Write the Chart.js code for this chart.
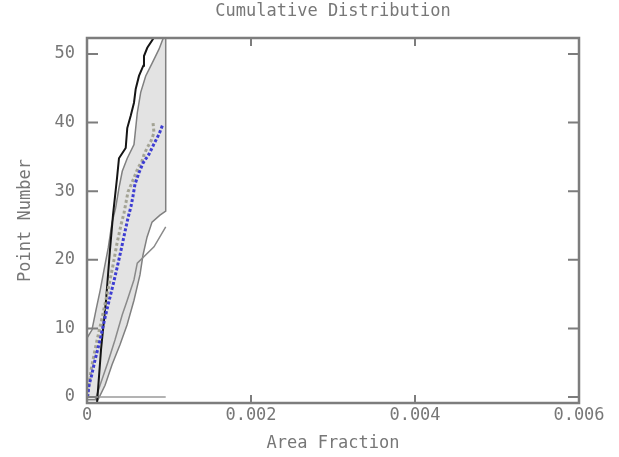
<!DOCTYPE html>
<html>
<head>
<meta charset="utf-8">
<style>
  html, body { margin: 0; padding: 0; background: #fff; }
</style>
<script src="https://cdn.jsdelivr.net/npm/chart.js@4.4.1/dist/chart.umd.min.js"></script>
</head>
<body>
<canvas id="cdf" width="619" height="457"></canvas>
<script>
// tick values / labels
const xTicks = [0, 0.002, 0.004, 0.006];
const xTickLabels = ['0', '0.002', '0.004', '0.006'];
const yTicks = [0, 10, 20, 30, 40, 50];
const chartTitle = 'Cumulative Distribution';

// observed cumulative distribution (blue dots)
const blueX = [0.000006, 0.000024, 0.000057, 0.000098, 0.000159, 0.000207, 0.000256, 0.000317, 0.000366, 0.000415, 0.000463, 0.0005, 0.000537, 0.000561, 0.000585, 0.000634, 0.000683, 0.000756, 0.000817, 0.000878, 0.000927];
const blueY = [0, 1.7, 3.2, 5.4, 8.3, 10.9, 13.4, 16.3, 18.8, 21.4, 24.1, 26.1, 27.8, 29.3, 31.0, 32.7, 34.1, 35.4, 36.9, 38.3, 39.8];

// second distribution (grey dots)
const grayX = [0.000006, 0.000049, 0.00011, 0.000183, 0.000256, 0.000317, 0.000366, 0.000415, 0.000451, 0.000476, 0.0005, 0.000561, 0.000622, 0.000671, 0.000695, 0.000732, 0.00078, 0.000817, 0.000805];
const grayY = [0, 3.9, 7.6, 11.5, 15.6, 19.2, 22.4, 25.1, 26.8, 28.4, 29.9, 31.6, 33.4, 34.4, 35.3, 36.3, 37.3, 38.5, 40.0];

// black reference curve
const blackX = [0.000122, 0.000171, 0.000232, 0.00028, 0.000317, 0.000366, 0.00039, 0.000472, 0.000491, 0.000533, 0.000573, 0.000594, 0.000634, 0.000687, 0.000695, 0.000735, 0.00085];
const blackY = [-0.9, 6.9, 14.1, 21.4, 26.5, 31.9, 34.8, 36.3, 39.2, 41.0, 42.9, 44.9, 46.8, 48.3, 49.7, 50.9, 53.0];

// envelope edges
const bandLeftX = [0, 0.000061, 0.00011, 0.00016, 0.000207, 0.00026, 0.000305, 0.00035, 0.00039, 0.00043, 0.000491, 0.000573, 0.000594, 0.000613, 0.000655, 0.000716, 0.000796, 0.000878, 0.000939];
const bandLeftY = [8.6, 9.8, 12.7, 15.5, 18.5, 21.8, 25.4, 27.6, 30.5, 32.9, 34.8, 36.8, 39.2, 41.4, 44.4, 46.8, 48.7, 50.7, 52.6];
const bandRightX = [0.00096, 0.00096, 0.00089, 0.000793, 0.000732, 0.000683, 0.000646, 0.000573, 0.000488, 0.000402, 0.000305, 0.00022, 0.000134];
const bandRightY = [52.6, 27.1, 26.5, 25.5, 23.3, 20.7, 17.8, 14.1, 10.5, 7.6, 4.7, 1.7, -0.4];
const innerX = [0.00096, 0.000817, 0.000613, 0.000573, 0.000491, 0.00043, 0.000341, 0.000256, 0.000159, 0.0001];
const innerY = [24.8, 21.9, 19.5, 17.1, 14.1, 12.0, 8.3, 5.1, 1.7, -0.4];

// zero line along the bottom
const baseX = [0, 0.00096];
const baseY = [0, 0];

const axisColor = '#7d7d7d';
const textColor = '#777777';
const fontFamily = "'DejaVu Sans Mono', monospace";

function pts(xs, ys) {
  return xs.map((v, i) => ({ x: v, y: ys[i] }));
}

// closed envelope polygon for the shaded area
const bandShape = [{ x: 0, y: -0.4 }]
  .concat(pts(bandLeftX, bandLeftY))
  .concat(pts(bandRightX, bandRightY))
  .concat([{ x: 0, y: -0.4 }]);

Chart.defaults.font.family = fontFamily;
Chart.defaults.color = textColor;

// frame, inward tick marks on all four sides, title centred on the plot box
const framePlugin = {
  id: 'frame',
  afterDraw(chart) {
    const { ctx, chartArea: a, scales: { x, y } } = chart;
    ctx.save();
    ctx.strokeStyle = axisColor;
    ctx.lineWidth = 2.5;
    ctx.strokeRect(a.left, a.top, a.right - a.left, a.bottom - a.top);
    ctx.lineWidth = 2;
    ctx.beginPath();
    yTicks.forEach(v => {
      const py = y.getPixelForValue(v);
      ctx.moveTo(a.left, py); ctx.lineTo(a.left + 11, py);
      ctx.moveTo(a.right, py); ctx.lineTo(a.right - 11, py);
    });
    xTicks.forEach(v => {
      const px = x.getPixelForValue(v);
      if (px <= a.left + 1 || px >= a.right - 1) return;
      ctx.moveTo(px, a.bottom); ctx.lineTo(px, a.bottom - 8);
      ctx.moveTo(px, a.top); ctx.lineTo(px, a.top + 8);
    });
    ctx.stroke();

    ctx.fillStyle = textColor;
    ctx.font = '17px ' + fontFamily;
    ctx.textAlign = 'center';
    ctx.textBaseline = 'middle';
    ctx.fillText(chartTitle, (a.left + a.right) / 2, 12);
    ctx.restore();
  }
};

const ctx = document.getElementById('cdf').getContext('2d');
new Chart(ctx, {
  type: 'scatter',
  data: {
    datasets: [
      {
        label: 'observed',
        data: pts(blueX, blueY),
        showLine: true,
        borderColor: '#3d3dd2',
        borderWidth: 3,
        borderDash: [3, 2],
        pointRadius: 0,
        order: 0
      },
      {
        label: 'second',
        data: pts(grayX, grayY),
        showLine: true,
        borderColor: '#a3a394',
        borderWidth: 3,
        borderDash: [3, 2.5],
        pointRadius: 0,
        order: 1
      },
      {
        label: 'reference',
        data: pts(blackX, blackY),
        showLine: true,
        borderColor: '#151515',
        borderWidth: 2,
        pointRadius: 0,
        order: 2
      },
      {
        label: 'inner',
        data: pts(innerX, innerY),
        showLine: true,
        borderColor: '#8a8a8a',
        borderWidth: 1.5,
        pointRadius: 0,
        order: 3
      },
      {
        label: 'base',
        data: pts(baseX, baseY),
        showLine: true,
        borderColor: '#9a9a9a',
        borderWidth: 1.5,
        pointRadius: 0,
        order: 3
      },
      {
        label: 'envelope',
        data: bandShape,
        showLine: true,
        borderColor: '#808080',
        borderWidth: 1.5,
        backgroundColor: '#e3e3e3',
        fill: 'shape',
        pointRadius: 0,
        order: 4
      }
    ]
  },
  options: {
    responsive: false,
    animation: false,
    layout: { padding: { left: 0, right: 40, top: 38, bottom: 0 } },
    plugins: {
      legend: { display: false },
      tooltip: { enabled: false },
      title: { display: false }
    },
    scales: {
      x: {
        type: 'linear',
        min: 0,
        max: 0.006,
        grid: { display: false, drawTicks: false },
        border: { display: false },
        afterBuildTicks: s => { s.ticks = xTicks.map(v => ({ value: v })); },
        afterFit: s => { s.height = 54; },
        ticks: {
          padding: 2,
          maxRotation: 0,
          font: { size: 17 },
          color: textColor,
          callback: (v, i) => xTickLabels[i]
        },
        title: {
          display: true,
          text: 'Area Fraction',
          color: textColor,
          font: { size: 17 },
          padding: { top: 0, bottom: 2.8 }
        }
      },
      y: {
        type: 'linear',
        min: -0.875,
        max: 52.33,
        grid: { display: false, drawTicks: false },
        border: { display: false },
        afterBuildTicks: s => { s.ticks = yTicks.map(v => ({ value: v })); },
        afterFit: s => { s.width = 87; },
        ticks: {
          padding: 12,
          font: { size: 17 },
          color: textColor
        },
        title: {
          display: true,
          text: 'Point Number',
          color: textColor,
          font: { size: 17 },
          padding: { top: 15.8, bottom: 0 }
        }
      }
    }
  },
  plugins: [framePlugin]
});
</script>
</body>
</html>
